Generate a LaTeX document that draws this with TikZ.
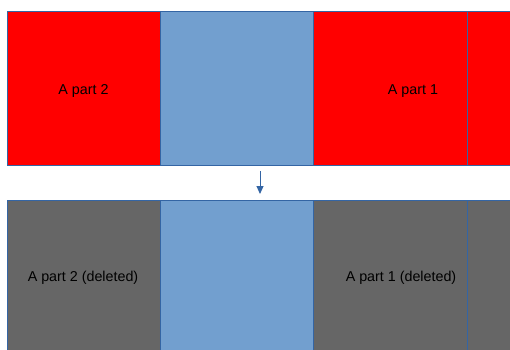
\documentclass[tikz,border=0pt]{standalone}
\usepackage{fontspec}
\setmainfont{Liberation Sans}
\usetikzlibrary{arrows.meta}
\definecolor{partred}{HTML}{FF0000}
\definecolor{freeblue}{HTML}{729FCF}
\definecolor{delgray}{HTML}{666666}
\definecolor{edgeblue}{HTML}{3465A4}
\begin{document}
\begin{tikzpicture}[x=1pt,y=-1pt,
  cell/.style={rectangle, draw=edgeblue, line width=1pt, inner sep=0pt, anchor=north west, minimum height=154pt},
  parttext/.style={font=\fontsize{14.3}{17}\selectfont, text=black, inner sep=0pt, anchor=base},
  move/.style={draw=edgeblue, line width=1pt, -{Triangle[length=8pt,width=7pt]}}]
\useasboundingbox (0,0) rectangle (510,349);
% top row
\node [cell, fill=partred, minimum width=153pt] (a2) at (7,11) {};
\node [cell, fill=freeblue, minimum width=153pt] (free) at (160,11) {};
\node [cell, fill=partred, minimum width=154pt] (a1) at (313,11) {};
\node [cell, fill=partred, minimum width=46pt] (a1r) at (467,11) {};
\node [parttext] (a2t) at (83.5,94) {A part 2};
\node [parttext] (a1t) at (413,94) {A part 1};
% bottom row
\node [cell, fill=delgray, minimum width=153pt, minimum height=152pt] (d2) at (7,200) {};
\node [cell, fill=freeblue, minimum width=153pt, minimum height=152pt] (dfree) at (160,200) {};
\node [cell, fill=delgray, minimum width=154pt, minimum height=152pt] (d1) at (313,200) {};
\node [cell, fill=delgray, minimum width=46pt, minimum height=152pt] (d1r) at (467,200) {};
\node [parttext] (d2t) at (83,281) {A part 2 (deleted)};
\node [parttext] (d1t) at (401,281) {A part 1 (deleted)};
% arrow
\coordinate (from) at (260,171);
\coordinate (to) at (260,194);
\draw [move] (from) -- (to);
\end{tikzpicture}
\end{document}
